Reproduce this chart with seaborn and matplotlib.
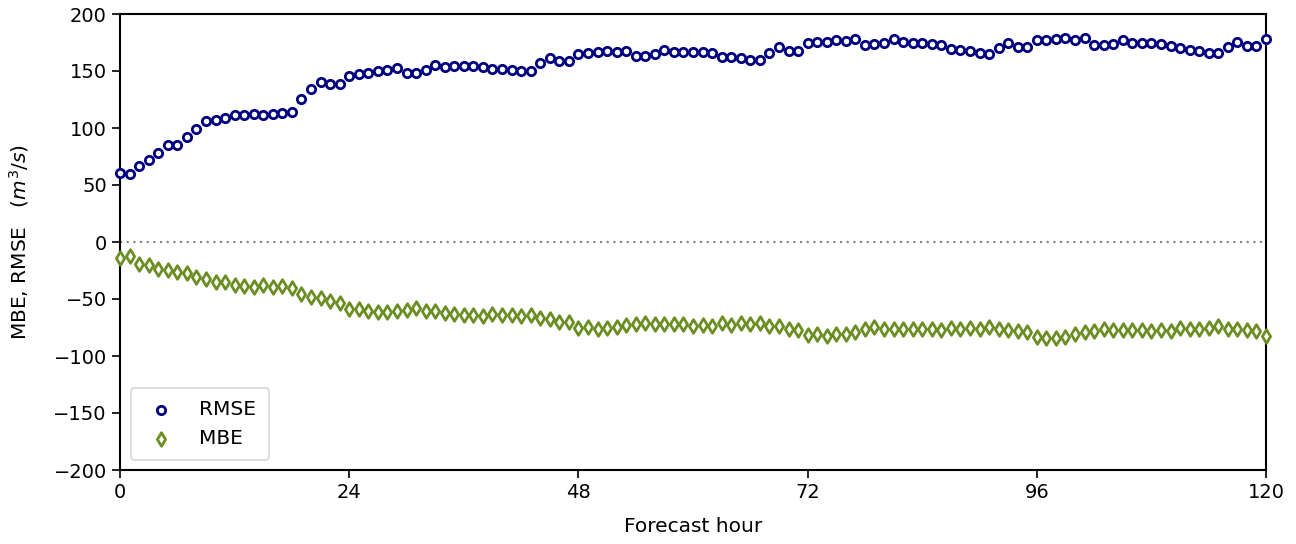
import matplotlib
matplotlib.use("Agg")
import matplotlib.pyplot as plt
import seaborn as sns
import numpy as np
import pandas as pd

hours = list(range(0, 121))

rmse = [60.3, 59.6, 67.0, 72.0, 77.8, 85.4, 84.8, 91.8, 98.8, 105.8,
        107.0, 109.0, 111.0, 111.0, 112.0, 111.7, 112.5, 113.0, 113.7, 125.7,
        134.2, 140.4, 138.3, 138.9, 145.6, 147.1, 148.5, 150.0, 150.6, 152.3,
        148.0, 148.5, 150.9, 155.0, 153.5, 154.0, 154.4, 154.0, 153.2, 151.5,
        151.5, 150.6, 149.7, 150.0, 156.7, 161.4, 158.8, 158.8, 165.0, 165.5,
        166.4, 167.3, 166.7, 167.5, 163.2, 163.4, 164.6, 168.4, 166.4, 166.7,
        167.0, 166.4, 165.5, 162.6, 162.0, 161.1, 160.0, 160.0, 165.8, 170.8,
        167.5, 167.5, 174.6, 175.1, 175.7, 176.9, 176.3, 178.0, 172.8, 173.4,
        174.3, 178.0, 175.4, 174.9, 174.6, 173.7, 172.5, 169.6, 168.7, 167.3,
        165.5, 164.6, 170.5, 174.3, 171.4, 171.4, 177.2, 177.2, 177.8, 178.7,
        177.2, 178.7, 172.5, 172.8, 173.7, 177.2, 174.6, 174.6, 174.3, 173.7,
        172.2, 169.9, 168.4, 167.8, 165.8, 165.5, 170.8, 175.7, 171.7, 171.7,
        177.8]

mbe = [-14.3, -12.0, -19.6, -20.2, -23.7, -24.6, -26.6, -27.5, -31.0, -32.7,
       -35.1, -35.4, -38.0, -38.3, -39.5, -37.4, -39.5, -38.6, -40.6, -45.3,
       -48.5, -49.1, -52.0, -53.2, -58.8, -59.0, -60.8, -61.1, -61.1, -60.2,
       -59.5, -58.2, -60.2, -60.8, -62.6, -63.2, -64.0, -63.8, -64.6, -63.5,
       -64.3, -64.0, -64.9, -63.8, -66.9, -67.5, -69.9, -70.5, -75.1, -74.3,
       -76.6, -75.7, -74.9, -72.8, -71.9, -71.1, -71.6, -71.9, -72.2, -72.2,
       -73.5, -72.5, -73.4, -71.3, -72.5, -71.3, -72.2, -71.3, -73.4, -74.0,
       -76.0, -76.9, -81.3, -80.7, -82.2, -80.4, -80.4, -78.6, -76.6, -74.9,
       -76.3, -76.3, -76.6, -76.6, -76.6, -76.6, -76.9, -75.1, -76.0, -75.1,
       -76.0, -74.3, -76.6, -77.2, -78.1, -78.6, -83.6, -83.9, -84.5, -83.0,
       -81.0, -79.2, -78.4, -76.3, -77.2, -77.2, -77.2, -77.2, -78.1, -76.9,
       -77.8, -75.1, -76.3, -76.0, -75.1, -74.0, -76.0, -76.0, -77.5, -78.4,
       -82.2]

x_ticks = [0, 24, 48, 72, 96, 120]
y_ticks = [-200, -150, -100, -50, 0, 50, 100, 150, 200]

sns.set_style("ticks")
plt.rcParams['font.family'] = ['DejaVu Sans']
plt.rcParams['text.color'] = 'black'
plt.rcParams['axes.labelcolor'] = 'black'
plt.rcParams['xtick.color'] = 'black'
plt.rcParams['ytick.color'] = 'black'

df = pd.DataFrame({"hour": hours, "RMSE": rmse, "MBE": mbe})

fig = plt.figure(figsize=(12.96, 5.44), dpi=100)
ax = fig.add_axes([120/1296, 1 - 470/544, (1266-120)/1296, 456/544])

ax.axhline(0, color="gray", linestyle=(0, (1, 2.2)), linewidth=1.5, zorder=1)

sns.scatterplot(data=df, x="hour", y="RMSE", ax=ax, marker="o", s=36,
                facecolor="white", edgecolor="navy", linewidth=2.0,
                label="RMSE", zorder=3, clip_on=False)
sns.scatterplot(data=df, x="hour", y="MBE", ax=ax, marker="d", s=48,
                facecolor="white", edgecolor="olivedrab", linewidth=2.0,
                label="MBE", zorder=3, clip_on=False)

ax.set_xlim(0, 120)
ax.set_ylim(-200, 200)
ax.set_xticks(x_ticks)
ax.set_yticks(y_ticks)
ax.tick_params(axis="both", labelsize=14, length=6, width=1.2,
               color="black", labelcolor="black")
for sp in ax.spines.values():
    sp.set_visible(True)
    sp.set_color("black")
    sp.set_linewidth(1.5)

ax.set_xlabel("Forecast hour", fontsize=14.5, labelpad=11)
ax.set_ylabel("MBE, RMSE   $(m^3/s)$", fontsize=14.5, labelpad=16)

leg = ax.legend(loc="lower left", fontsize=14.5, frameon=True,
                handletextpad=1.0, handlelength=1.8, borderpad=0.6,
                labelspacing=0.5, borderaxespad=0,
                bbox_to_anchor=(11/1146, 10/456))
leg.get_frame().set_edgecolor("#cccccc")
leg.get_frame().set_linewidth(1.2)

fig.savefig("out.png", dpi=100)
